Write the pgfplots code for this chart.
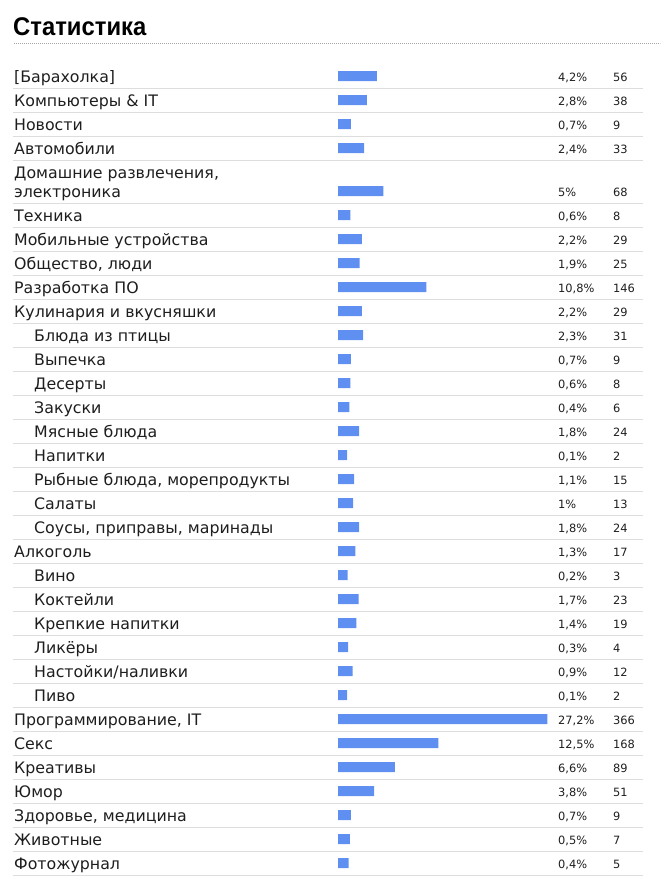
\documentclass[border=0pt]{standalone}
\usepackage{fontspec}
\setmainfont{DejaVu Sans}
\newfontfamily\titlefont{Liberation Sans}[FakeStretch=0.93]
\usepackage{pgfplots}
\usepackage{pgfplotstable}
\pgfplotsset{compat=1.18}

\definecolor{barblue}{RGB}{95,143,240}
\definecolor{rule}{RGB}{221,221,221}
\definecolor{ink}{RGB}{30,30,30}

% row centre (px from top), count, percent
\pgfplotstableread[col sep=semicolon]{
y;n;pct
76;56;4,2
100;38;2,8
124;9;0,7
148;33;2,4
191;68;5
215;8;0,6
239;29;2,2
263;25;1,9
287;146;10,8
311;29;2,2
335;31;2,3
359;9;0,7
383;8;0,6
407;6;0,4
431;24;1,8
455;2;0,1
479;15;1,1
503;13;1
527;24;1,8
551;17;1,3
575;3;0,2
599;23;1,7
623;19;1,4
647;4;0,3
671;12;0,9
695;2;0,1
719;366;27,2
743;168;12,5
767;89;6,6
791;51;3,8
815;9;0,7
839;7;0,5
863;5;0,4
}\stats

% label x (axis units), baseline y, text
\pgfplotstableread[col sep=semicolon]{
x;y;txt
-589.1;82;[Барахолка]
-589.1;106;Компьютеры \& IT
-589.1;130;Новости
-589.1;154;Автомобили
-589.1;178;Домашние развлечения,
-589.1;197;электроника
-589.1;221;Техника
-589.1;245;Мобильные устройства
-589.1;269;Общество, люди
-589.1;293;Разработка ПО
-589.1;317;Кулинария и вкусняшки
-552.7;341;Блюда из птицы
-552.7;365;Выпечка
-552.7;389;Десерты
-552.7;413;Закуски
-552.7;437;Мясные блюда
-552.7;461;Напитки
-552.7;485;Рыбные блюда, морепродукты
-552.7;509;Салаты
-552.7;533;Соусы, приправы, маринады
-589.1;557;Алкоголь
-552.7;581;Вино
-552.7;605;Коктейли
-552.7;629;Крепкие напитки
-552.7;653;Ликёры
-552.7;677;Настойки/наливки
-552.7;701;Пиво
-589.1;725;Программирование, IT
-589.1;749;Секс
-589.1;773;Креативы
-589.1;797;Юмор
-589.1;821;Здоровье, медицина
-589.1;845;Животные
-589.1;869;Фотожурнал
}\labels

\begin{document}
\begin{tikzpicture}
\begin{axis}[
    scale only axis,
    width=660bp, height=890bp,
    xmin=-614.545, xmax=585.455,
    ymin=0, ymax=890, y dir=reverse,
    hide axis, clip=false,
    every node near coord/.append style={anchor=base west, inner sep=0pt, text=ink},
]
\path (rel axis cs:0,0) rectangle (rel axis cs:1,1);

% title and dotted rule
\node[anchor=base west, inner sep=0pt, font=\titlefont\bfseries\fontsize{25.6bp}{30bp}\selectfont]
    at (axis cs:-590.9,35) {Статистика};
\draw[gray!70, line width=1bp, dash pattern=on 1bp off 1bp] (axis cs:-589.1,43) -- (axis cs:585.455,43);

% row separators
\pgfplotsinvokeforeach{88,112,136,160,203,227,...,875}{
    \draw[rule, line width=1bp] (axis cs:-590.9,#1) -- (axis cs:554.5,#1);
}

% bars (8 px minimum width + 0.55 px per item)
\addplot[xbar, bar width=10bp, bar shift=0pt, fill=barblue, draw=none]
    table[x expr=\thisrow{n}+14.5, y=y] {\stats};

% category labels
\addplot[only marks, mark=o, mark size=0pt, mark options={draw=none},
    point meta=explicit symbolic,
    nodes near coords={\pgfplotspointmeta},
    every node near coord/.append style={font=\fontsize{15.8bp}{18bp}\selectfont}]
    table[x=x, y=y, meta=txt] {\labels};

% percentages
\addplot[only marks, mark=o, mark size=0pt, mark options={draw=none},
    point meta=explicit symbolic,
    nodes near coords={\pgfplotspointmeta\%},
    every node near coord/.append style={font=\fontsize{11.4bp}{13bp}\selectfont}]
    table[x expr=400, y expr=\thisrow{y}+5.5, meta=pct] {\stats};

% counts
\addplot[only marks, mark=o, mark size=0pt, mark options={draw=none},
    point meta=explicit symbolic,
    nodes near coords={\pgfplotspointmeta},
    every node near coord/.append style={font=\fontsize{11.4bp}{13bp}\selectfont}]
    table[x expr=500, y expr=\thisrow{y}+5.5, meta=n] {\stats};
\end{axis}
\end{tikzpicture}
\end{document}
